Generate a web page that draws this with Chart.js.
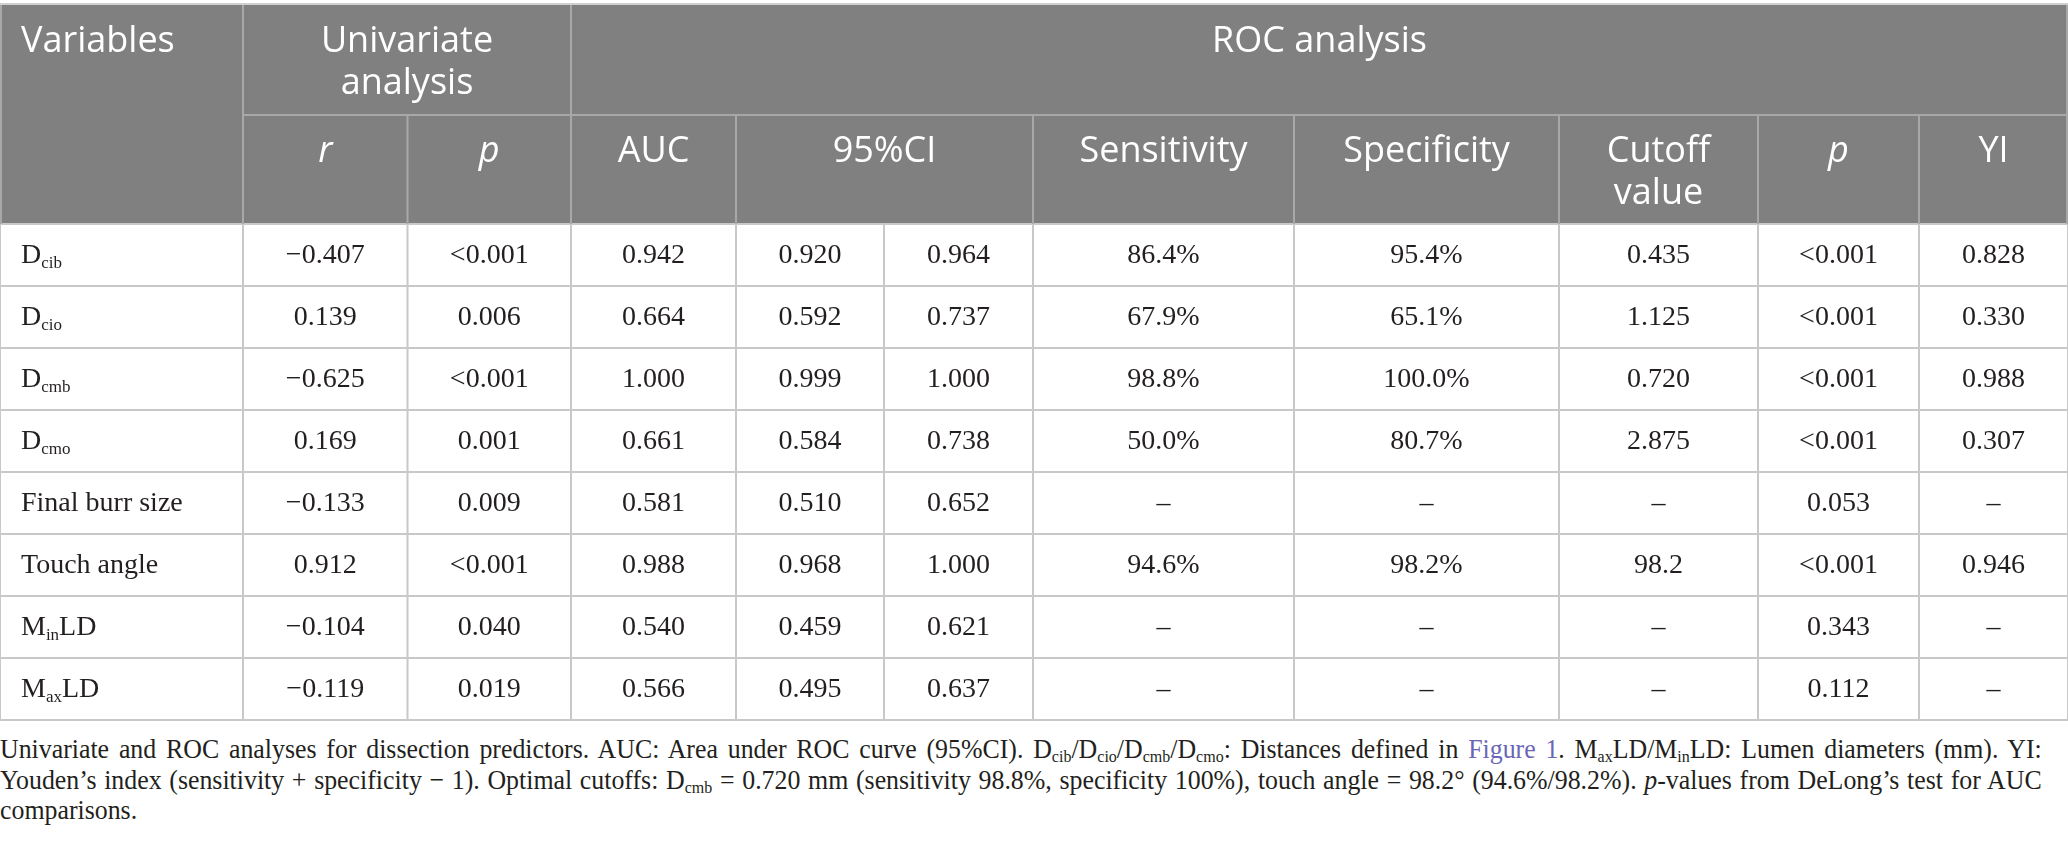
<!DOCTYPE html>
<html>
<head>
<meta charset="utf-8">
<script src="https://cdn.jsdelivr.net/npm/chart.js@4/dist/chart.umd.min.js"></script>
<style>
html,body{margin:0;padding:0;background:#fff;overflow:hidden;}
#wrap{position:absolute;left:0;top:0;width:2068px;height:722px;}
#cap{position:absolute;left:0;top:734px;width:2172px;transform:scaleX(0.94);transform-origin:0 0;font-family:"Liberation Serif","Times New Roman",serif;font-size:27.5px;color:#231f20;}
#cap .ln{text-align:justify;text-align-last:justify;height:30.5px;line-height:30.5px;}
#cap .last{text-align:left;text-align-last:left;}
#cap sub{font-size:62%;vertical-align:-0.25em;line-height:0;}
#cap a{color:#6a66b5;text-decoration:none;}
</style>
</head>
<body>
<div id="wrap"><canvas id="c"></canvas></div>
<div id="cap">
<div class="ln">Univariate and ROC analyses for dissection predictors. AUC: Area under ROC curve (95%CI). D<sub>cib</sub>/D<sub>cio</sub>/D<sub>cmb</sub>/D<sub>cmo</sub>: Distances defined in <a>Figure 1</a>. M<sub>ax</sub>LD/M<sub>in</sub>LD: Lumen diameters (mm). YI:</div>
<div class="ln">Youden’s index (sensitivity + specificity − 1). Optimal cutoffs: D<sub>cmb</sub> = 0.720 mm (sensitivity 98.8%, specificity 100%), touch angle = 98.2° (94.6%/98.2%). <i>p</i>-values from DeLong’s test for AUC</div>
<div class="ln last">comparisons.</div>
</div>
<script>
// ---------- DATA ----------
const variables   = ["D{cib}","D{cio}","D{cmb}","D{cmo}","Final burr size","Touch angle","M{in}LD","M{ax}LD"];
const rValues     = ["\u22120.407","0.139","\u22120.625","0.169","\u22120.133","0.912","\u22120.104","\u22120.119"];
const pUnivariate = ["<0.001","0.006","<0.001","0.001","0.009","<0.001","0.040","0.019"];
const aucValues   = ["0.942","0.664","1.000","0.661","0.581","0.988","0.540","0.566"];
const ciLower     = ["0.920","0.592","0.999","0.584","0.510","0.968","0.459","0.495"];
const ciUpper     = ["0.964","0.737","1.000","0.738","0.652","1.000","0.621","0.637"];
const sensitivity = ["86.4%","67.9%","98.8%","50.0%","\u2013","94.6%","\u2013","\u2013"];
const specificity = ["95.4%","65.1%","100.0%","80.7%","\u2013","98.2%","\u2013","\u2013"];
const cutoffValue = ["0.435","1.125","0.720","2.875","\u2013","98.2","\u2013","\u2013"];
const pRoc        = ["<0.001","<0.001","<0.001","<0.001","0.053","<0.001","0.343","0.112"];
const youdenIndex = ["0.828","0.330","0.988","0.307","\u2013","0.946","\u2013","\u2013"];

const groupHeaders = [
  {text:["Variables"], from:0, to:1, rows:2, align:"left"},
  {text:["Univariate","analysis"], from:1, to:3, rows:1},
  {text:["ROC analysis"], from:3, to:11, rows:1}
];
const subHeaders = [
  {text:["r"], from:1, to:2, italic:true},
  {text:["p"], from:2, to:3, italic:true},
  {text:["AUC"], from:3, to:4},
  {text:["95%CI"], from:4, to:6},
  {text:["Sensitivity"], from:6, to:7},
  {text:["Specificity"], from:7, to:8},
  {text:["Cutoff","value"], from:8, to:9},
  {text:["p"], from:9, to:10, italic:true},
  {text:["YI"], from:10, to:11}
];
const columns = [variables, rValues, pUnivariate, aucValues, ciLower, ciUpper,
                 sensitivity, specificity, cutoffValue, pRoc, youdenIndex];

// ---------- LAYOUT (sizes/styles) ----------
const COL_W = [243,164.5,163.5,165,148,149,261,265,199,161,149];
const ROW_H = [110,109,62,62,62,62,62,62,62,62];
const HEAD_BG = "#808080";
const HEAD_LINE = "#a8a8a8";
const BODY_LINE = "#c8c8c8";
const HEAD_FONT = '"Open Sans","Noto Sans",sans-serif';
const BODY_FONT = '"Liberation Serif","Times New Roman",serif';

const cum = a => a.reduce((acc,v)=>{acc.push(acc[acc.length-1]+v);return acc;},[0]);
const colEdges = cum(COL_W);
const rowEdges = cum(ROW_H);

function drawRich(ctx, str, x, y, align, size){
  const parts = [];
  const re = /([^{]+)|\{([^}]*)\}/g; let m;
  while((m = re.exec(str))){ if(m[1]) parts.push({t:m[1],sub:false}); else parts.push({t:m[2],sub:true}); }
  const subSize = Math.round(size*0.62);
  const fontFor = p => (p.sub? subSize: size) + "px " + BODY_FONT;
  let w = 0;
  parts.forEach(p=>{ctx.font = fontFor(p); p.w = ctx.measureText(p.t).width; w += p.w;});
  let cx = align === "left" ? x : x - w/2;
  ctx.textAlign = "left";
  parts.forEach(p=>{
    ctx.font = fontFor(p);
    ctx.textBaseline = "middle";
    ctx.fillText(p.t, cx, p.sub ? y + size*0.28 : y);
    cx += p.w;
  });
}

const tablePlugin = {
  id: "tablePlugin",
  afterDraw(chart){
    const {ctx, scales:{x, y}} = chart;
    const X = v => x.getPixelForValue(colEdges[v]);
    const Y = v => y.getPixelForValue(rowEdges[v]);
    const nRows = variables.length;
    ctx.save();
    ctx.fillStyle = HEAD_BG;
    ctx.fillRect(X(0), Y(0), X(11)-X(0), Y(2)-Y(0));

    ctx.strokeStyle = BODY_LINE; ctx.lineWidth = 2;
    ctx.beginPath();
    for(let r=2;r<=2+nRows;r++){ ctx.moveTo(X(0), Y(r)); ctx.lineTo(X(11), Y(r)); }
    for(let c=0;c<=11;c++){ ctx.moveTo(X(c), Y(2)); ctx.lineTo(X(c), Y(2+nRows)); }
    ctx.stroke();
    ctx.strokeStyle = "#cfcfcf";
    ctx.beginPath(); ctx.moveTo(X(0), Y(0)-1); ctx.lineTo(X(11), Y(0)-1); ctx.stroke();

    ctx.strokeStyle = HEAD_LINE; ctx.lineWidth = 2;
    ctx.beginPath();
    ctx.moveTo(X(1), Y(1)); ctx.lineTo(X(11), Y(1));
    groupHeaders.forEach(g=>{ if(g.from>0){ ctx.moveTo(X(g.from), Y(0)); ctx.lineTo(X(g.from), Y(2)); } });
    subHeaders.forEach(s=>{ if(s.from>1 && s.from!==3){ ctx.moveTo(X(s.from), Y(1)); ctx.lineTo(X(s.from), Y(2)); } });
    ctx.moveTo(X(0)+1, Y(0)); ctx.lineTo(X(0)+1, Y(2));
    ctx.moveTo(X(11)-1, Y(0)); ctx.lineTo(X(11)-1, Y(2));
    ctx.stroke();

    ctx.fillStyle = "#ffffff";
    ctx.textBaseline = "middle";
    const headSize = 36;
    const drawHead = (h, rowIdx) => {
      ctx.font = (h.italic ? "italic " : "") + headSize + "px " + HEAD_FONT;
      h.text.forEach((line, i) => {
        const ty = Y(rowIdx) + 37 + i*42;
        if(h.align === "left"){ ctx.textAlign = "left"; ctx.fillText(line, X(h.from)+21, ty); }
        else { ctx.textAlign = "center"; ctx.fillText(line, (X(h.from)+X(h.to))/2, ty); }
      });
    };
    groupHeaders.forEach(g=>drawHead(g,0));
    subHeaders.forEach(s=>drawHead(s,1));

    ctx.fillStyle = "#231f20";
    const bodySize = 28;
    for(let r=0;r<nRows;r++){
      const cy = (Y(2+r)+Y(3+r))/2 + 1;
      columns.forEach((col, c) => {
        if(c===0) drawRich(ctx, col[r], X(0)+21, cy, "left", bodySize);
        else drawRich(ctx, col[r], (X(c)+X(c+1))/2, cy, "center", bodySize);
      });
    }
    ctx.restore();
  }
};

new Chart(document.getElementById("c"), {
  type: "scatter",
  data: { datasets: [] },
  options: {
    responsive: true,
    maintainAspectRatio: false,
    animation: false,
    devicePixelRatio: 1,
    layout: { padding: { top: 5, bottom: 2, left: 0, right: 0 } },
    plugins: { legend: { display: false }, tooltip: { enabled: false } },
    scales: {
      x: { type: "linear", display: false, min: 0, max: colEdges[colEdges.length-1] },
      y: { type: "linear", display: false, reverse: true, min: 0, max: rowEdges[rowEdges.length-1] }
    }
  },
  plugins: [tablePlugin]
});
</script>
</body>
</html>
